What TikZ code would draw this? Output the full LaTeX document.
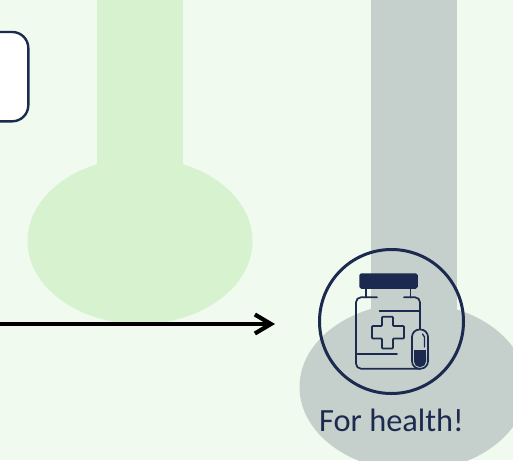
\documentclass[tikz,border=0pt]{standalone}
\usepackage{fontspec}
\setmainfont{Carlito}
\usetikzlibrary{arrows.meta,positioning}
\definecolor{paleback}{HTML}{F0FAEF}
\definecolor{palegreen}{HTML}{D6F2CF}
\definecolor{palegrey}{HTML}{C5D0CC}
\definecolor{navy}{HTML}{1B2A4E}
\tikzset{
    bulb/.style={fill=#1, draw=none},
    iconline/.style={draw=navy, line width=1.7pt, line cap=round, rounded corners=5pt},
}
\begin{document}
\begin{tikzpicture}[x=1pt, y=-1pt, >={Straight Barb[length=16pt,width=19pt,line width=4.2pt]}]
        \path[use as bounding box, clip] (0,0) rectangle (513,460);
        \fill[paleback] (0,0) rectangle (513,460);

        % Green stem and bulb
        \fill[bulb=palegreen] (97,-5) rectangle (183,170);
        \fill[bulb=palegreen] (140,241) ellipse [x radius=112.5, y radius=83];

        % Grey stem and bulb
        \fill[bulb=palegrey] (371,-5) rectangle (457,320);
        \fill[bulb=palegrey] (413,387) ellipse [x radius=113.5, y radius=84];

        % Box cut by the left edge
        \draw[navy, line width=2.4pt, fill=white, rounded corners=16pt] (-40,32) rectangle (28.3,121.3);

        % Arrow
        \coordinate (arrowstart) at (-5,324);
        \coordinate (arrowend) at (275,324);
        \draw[->, black, line width=4pt] (arrowstart) -- (arrowend);

        % Icon ring and caption
        \node[circle, draw=navy, line width=3pt, minimum size=144pt, inner sep=0pt] (ring) at (391.5,321.5) {};
        \node[below=14pt of ring, text=navy, font=\fontsize{32.4}{35}\selectfont, inner sep=0pt] (caption) {For health!};

        % Bottle
        \draw[fill=navy, draw=navy, line width=1.5pt, rounded corners=1.5pt] (360,274) rectangle (417,288);
        \draw[iconline] (366,288) -- (366,297.5);
        \draw[iconline] (410.5,288) -- (410.5,297.5);
        \draw[iconline] (377,297.3) -- (356,297.3) -- (356,368.7) -- (420,368.7);
        \draw[iconline] (404,297.3) -- (420,297.3) -- (420,330);
        \draw[iconline, rounded corners=0pt] (379.5,311.3) -- (419.5,311.3);
        \draw[iconline, rounded corners=0pt] (357.5,354) -- (397,354);

        % Cross
        \draw[iconline, rounded corners=0.8pt] (382,316.7) -- (393,316.7) -- (393,326) -- (404,326) -- (404,338.5) -- (393,338.5) -- (393,348.5) -- (382,348.5) -- (382,338.5) -- (372,338.5) -- (372,326) -- (382,326) -- cycle;

        % Capsule
        \fill[palegrey, rounded corners=7.5pt] (412,329.5) rectangle (428,368.7);
        \fill[navy, rounded corners=5.5pt] (414,350) rectangle (426,367);
        \fill[navy] (414,350) rectangle (426,358);
        \draw[navy, line width=1.7pt, rounded corners=7.5pt] (412,329.5) rectangle (428,368.7);
        \draw[navy, line width=1.3pt, line cap=round] (422.5,334) -- (424.5,337) -- (424.5,347);
\end{tikzpicture}
\end{document}
